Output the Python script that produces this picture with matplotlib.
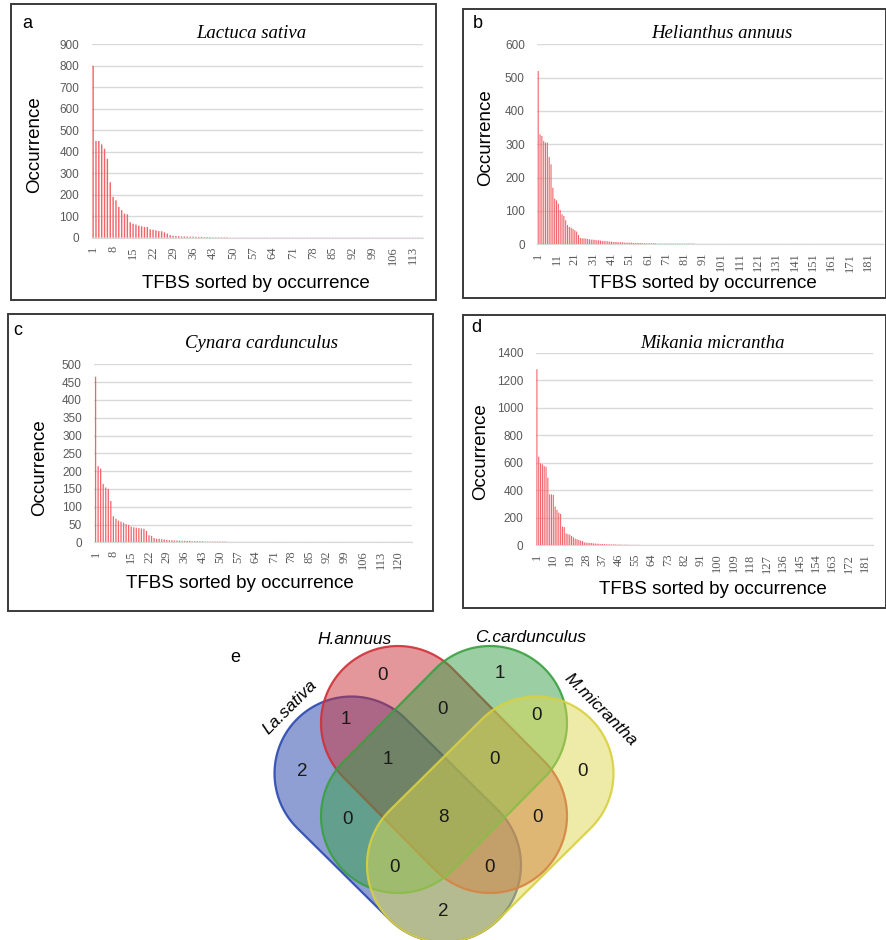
import numpy as np
import matplotlib.pyplot as plt
from matplotlib.patches import Rectangle, PathPatch
from matplotlib.path import Path

W, H = 887, 940

# TFBS occurrence, sorted high to low, one list per species
lactuca = [800, 450, 450, 434, 414, 367, 258, 190, 174, 143,
           128, 112, 109, 72, 65, 61, 56, 53, 50, 50,
           39, 37, 34, 31, 30, 25, 19, 12, 9, 8,
           7, 6, 6, 5, 5, 5, 4, 4, 4, 3,
           3, 3, 2, 2, 2, 2, 2, 2] + [1] * 68

helianthus = [520, 330, 325, 310, 305, 305, 262, 240, 170, 137,
              132, 122, 103, 90, 85, 72, 58, 52, 50, 46,
              42, 38, 28, 19, 18, 18, 17, 16, 15, 14,
              14, 13, 12, 12, 11, 10, 10, 9, 9, 8,
              8, 7, 7, 7, 6, 6, 6, 5, 5, 5,
              5, 5, 4, 4, 4, 4, 4, 3, 3, 3,
              3, 3, 3, 3, 3] + [2] * 21 + [1] * 103

cynara = [465, 214, 207, 164, 154, 150, 116, 73, 66, 61,
          58, 55, 51, 49, 44, 42, 41, 40, 39, 38,
          32, 20, 18, 12, 10, 10, 9, 8, 7, 6,
          6, 5, 5, 5, 4, 4, 4, 4, 3, 3,
          3, 3, 3, 2, 2, 2, 2, 2, 2, 2,
          2, 2] + [1] * 73

mikania = [1280, 644, 596, 588, 576, 571, 491, 370, 370, 366,
           281, 257, 237, 228, 136, 133, 87, 82, 77, 68,
           58, 48, 44, 39, 34, 31, 22, 19, 18, 17,
           16, 14, 13, 12, 11, 10, 9, 8, 8, 7,
           7, 6, 6, 6, 5, 5, 5, 4, 4, 4,
           4, 3, 3, 3, 3, 3, 3] + [2] * 23 + [1] * 105

# shared TFBS between the four species
venn_names = ['La.sativa', 'H.annuus', 'C.cardunculus', 'M.micrantha']
venn_regions = ['L', 'H', 'C', 'M', 'LH', 'HC', 'CM', 'LC', 'HM', 'LM',
                'LHC', 'HCM', 'LCM', 'LHM', 'LHCM']
venn_counts = [2, 0, 1, 0, 1, 0, 0, 0, 0, 2, 1, 0, 0, 0, 8]

fig = plt.figure(figsize=(W / 100, H / 100), dpi=100)


def box(l, t, r, b):
    return [l / W, 1 - b / H, (r - l) / W, (b - t) / H]


def ftext(x, y, s, **kw):
    fig.text(x / W, 1 - y / H, s, ha='center', va='center', **kw)


def frame(l, t, r, b):
    fig.add_artist(Rectangle((l / W, 1 - b / H), (r - l) / W, (b - t) / H,
                             transform=fig.transFigure, fill=False,
                             ec='#3a3a3a', lw=1.4))


def panel(rect, values, ymax, ystep, xstep, width):
    ax = fig.add_axes(rect)
    x = np.arange(1, len(values) + 1)
    ax.bar(x, values, width=width, color='#F2646B', linewidth=0, snap=False)
    ax.set_xlim(0.5, len(values) + 0.5)
    ax.set_ylim(0, ymax)
    ax.set_yticks(np.arange(0, ymax + 1, ystep))
    ax.set_xticks(x[::xstep])
    ax.set_xticklabels([str(v) for v in x[::xstep]], rotation=90,
                       family='Liberation Serif', fontsize=9, color='#595959')
    for lab in ax.get_yticklabels():
        lab.set_family('Liberation Sans')
        lab.set_fontsize(8.5)
        lab.set_color('#595959')
    ax.yaxis.grid(True, color='#D9D9D9', lw=1)
    ax.set_axisbelow(True)
    for s in ['top', 'right', 'left']:
        ax.spines[s].set_visible(False)
    ax.spines['bottom'].set_color('#D9D9D9')
    ax.tick_params(axis='both', length=0)
    ax.tick_params(axis='y', pad=9)
    ax.tick_params(axis='x', pad=6)
    return ax


sans = dict(family='Liberation Sans', fontsize=13.5)
title_kw = dict(family='Liberation Serif', style='italic', fontsize=13.5)

# a
frame(11, 4, 436, 300)
panel(box(91.7, 44.3, 422.7, 237.7), lactuca, 900, 100, 7, 0.5)
ftext(251, 33, 'Lactuca sativa', **title_kw)
ftext(35, 145, 'Occurrence', rotation=90, **sans)
ftext(256, 283, 'TFBS sorted by occurrence', **sans)
ftext(27, 24, 'a', family='Liberation Sans', fontsize=13)

# b
frame(463, 9, 886, 298)
panel(box(537.3, 44.3, 883.3, 244.3), helianthus, 600, 100, 10, 0.6)
ftext(722, 33, 'Helianthus annuus', **title_kw)
ftext(486, 138, 'Occurrence', rotation=90, **sans)
ftext(703, 283, 'TFBS sorted by occurrence', **sans)
ftext(478, 24, 'b', family='Liberation Sans', fontsize=13)

# c
frame(8, 314, 433, 611)
panel(box(94.3, 364.3, 412.3, 542.3), cynara, 500, 50, 7, 0.5)
ftext(262, 343, 'Cynara cardunculus', **title_kw)
ftext(40, 468, 'Occurrence', rotation=90, **sans)
ftext(240, 583, 'TFBS sorted by occurrence', **sans)
ftext(18, 331, 'c', family='Liberation Sans', fontsize=13)

# d
frame(463, 315, 886, 608)
panel(box(536, 352.7, 873.3, 545.3), mikania, 1400, 200, 9, 0.6)
ftext(712, 343, 'Mikania micrantha', **title_kw)
ftext(481, 452, 'Occurrence', rotation=90, **sans)
ftext(713, 589, 'TFBS sorted by occurrence', **sans)
ftext(476, 328, 'd', family='Liberation Sans', fontsize=13)

# e: four-set Venn built from capsule shapes, in pixel units
axv = fig.add_axes([0, 0, 1, 1], zorder=-1)
axv.set_xlim(0, W)
axv.set_ylim(H, 0)
axv.axis('off')


def capsule(p1, p2, r, n=60):
    p1 = np.asarray(p1, float)
    p2 = np.asarray(p2, float)
    a = np.arctan2(p2[1] - p1[1], p2[0] - p1[0])
    t2 = np.linspace(a - np.pi / 2, a + np.pi / 2, n)
    t1 = np.linspace(a + np.pi / 2, a + 3 * np.pi / 2, n)
    pts = np.vstack([p2 + r * np.c_[np.cos(t2), np.sin(t2)],
                     p1 + r * np.c_[np.cos(t1), np.sin(t1)]])
    pts = np.vstack([pts, pts[:1]])
    return Path(pts, closed=True)


rad = 77
shapes = [((351.5, 773.5), (444, 865), '#2040A8', '#2A48B0'),   # La.sativa
          ((398, 723), (490, 816), '#C83038', '#D03038'),       # H.annuus
          ((490, 723), (398, 816), '#38A048', '#3AA040'),       # C.cardunculus
          ((536.5, 773.5), (444, 865), '#DCD850', '#D8D040')]   # M.micrantha
for p1, p2, fc, ec in shapes:
    path = capsule(p1, p2, rad)
    axv.add_patch(PathPatch(path, fc=fc, alpha=0.5, lw=0))
    axv.add_patch(PathPatch(path, fill=False, ec=ec, lw=1.6, alpha=0.9))

region_xy = {'H': (383, 675), 'C': (500, 673), 'LH': (346, 720),
             'HC': (443, 709), 'CM': (537, 715), 'L': (302, 772),
             'LHC': (388, 759), 'HCM': (495, 760), 'M': (583, 771),
             'LC': (348, 819), 'LHCM': (443, 817), 'HM': (538, 817),
             'LCM': (395, 868), 'LHM': (490, 868), 'LM': (443, 912)}
for reg, cnt in zip(venn_regions, venn_counts):
    x, y = region_xy[reg]
    axv.text(x, y, str(cnt), ha='center', va='center',
             family='Liberation Sans', fontsize=13.5, color='#1a1a1a')

name_kw = dict(family='Liberation Sans', style='italic', fontsize=12.5,
               ha='center', va='center')
axv.text(290, 707, venn_names[0], rotation=45, **name_kw)
axv.text(355, 639, venn_names[1], **name_kw)
axv.text(531, 638, venn_names[2], **name_kw)
axv.text(600, 710, venn_names[3], rotation=-45, **name_kw)
axv.text(235, 658, 'e', family='Liberation Sans', fontsize=13,
         ha='center', va='center')

fig.savefig('out.png', dpi=100)
